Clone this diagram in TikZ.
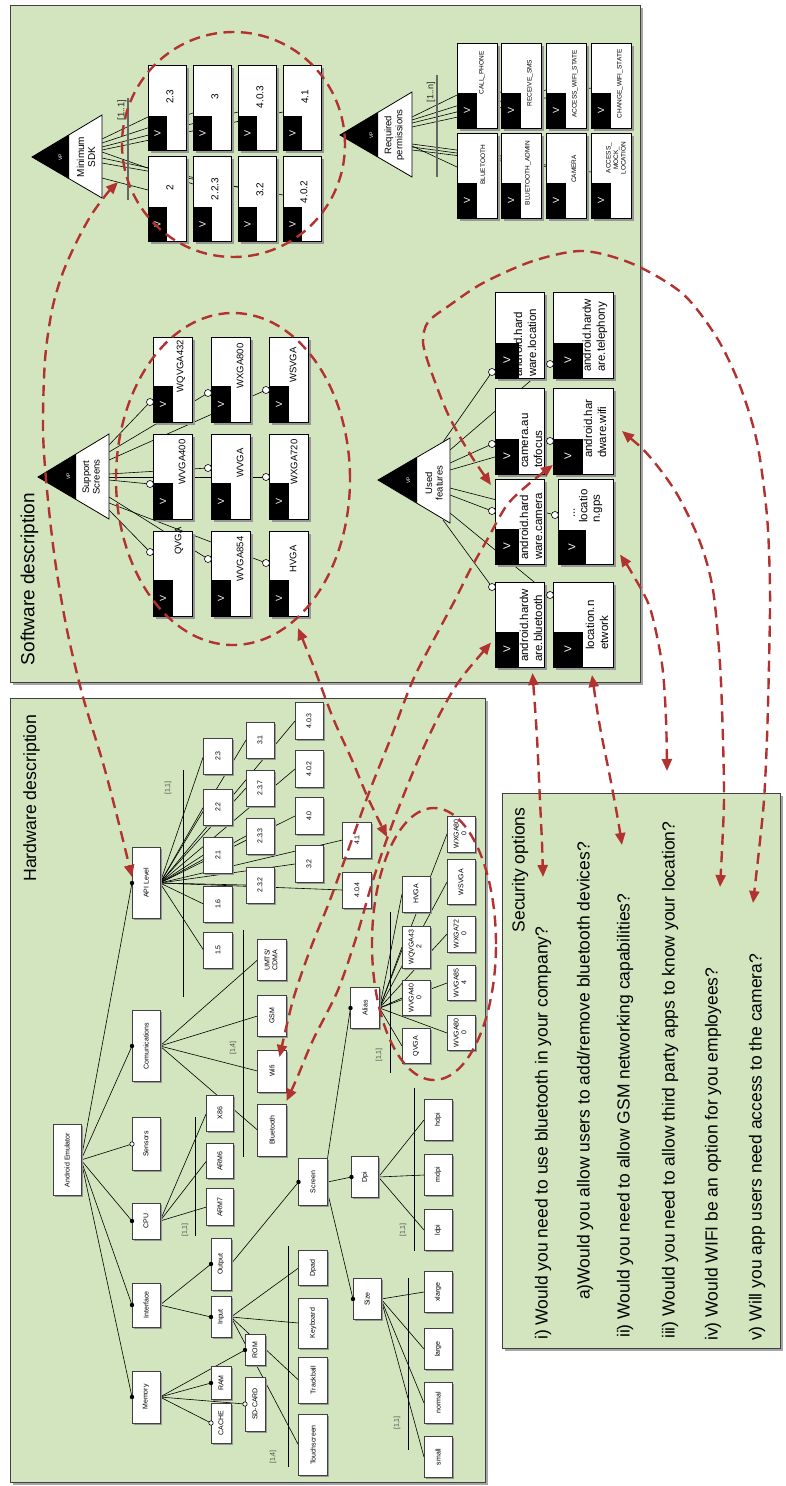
\documentclass[tikz,border=0pt]{standalone}
\usepackage{fontspec}
\setmainfont{Liberation Sans}
\usepackage{graphicx}
\usetikzlibrary{shapes.geometric,arrows.meta}
\definecolor{panelc}{RGB}{211,229,190}
\definecolor{redc}{RGB}{178,50,48}
\definecolor{shadowc}{RGB}{150,150,150}
\pgfdeclarelayer{panel}
\pgfdeclarelayer{lines}
\pgfdeclarelayer{front}
\pgfsetlayers{panel,lines,main,front}
\newcommand{\fsz}[2]{\fontsize{#1}{#2}\selectfont}
\newcommand{\twoline}[2]{\begin{tabular}{@{}c@{}}#1\\#2\end{tabular}}
\newcommand{\hwnode}[6]{%
  \fill[shadowc] (#2-#4/2+1.5,#3-#5/2+1.5) rectangle ++(#4,#5);
  \node[hwbox,minimum width=#4pt,minimum height=#5pt] (#1) at (#2,#3) {\rotatebox{90}{#6}};}
\newcommand{\featbox}[8]{%
  \fill[shadowc] (#2+2.5,#3+2.5) rectangle ++(#4,#5);
  \node[fbox,minimum width=#4pt,minimum height=#5pt,anchor=north west] (#1) at (#2,#3) {};
  \fill[black] (#2,#3+#5-#7) rectangle ++(#6,#7);
  \node[vtxt,font=\fsz{#8}{#8}] (#1v) at (#2+#6/2,#3+#5-#7/2) {\rotatebox{90}{V}};}
\begin{document}
\begin{tikzpicture}[x=1pt,y=-1pt,
  panel/.style={fill=panelc,draw=black!75,line width=0.8pt},
  fbox/.style={draw=black,fill=white,line width=0.8pt,inner sep=0pt,outer sep=0pt},
  hwbox/.style={draw=black!75,fill=white,line width=0.7pt,inner sep=0pt,outer sep=0pt,font=\fsz{7}{7.6}},
  vtxt/.style={text=white,inner sep=0pt},
  rot/.style={rotate=90,inner sep=0pt},
  conn/.style={line width=0.6pt},
  bar/.style={line width=0.7pt},
  card/.style={rotate=90,inner sep=0pt,font=\fsz{7}{8},text=black!70},
  optc/.style={draw=black,fill=white,line width=0.6pt},
  reddash/.style={draw=redc,line width=2.4pt,dash pattern=on 11pt off 6.5pt},
  redarrow/.style={reddash,arrows={Triangle[length=12pt,width=10pt]-Triangle[length=12pt,width=10pt]}},
]
\useasboundingbox (0,0) rectangle (785,1486);
\begin{pgfonlayer}{panel}
\fill[white] (0,0) rectangle (785,1486);
\fill[black!35] (12.5,7.5) rectangle (642.5,684.5);
\draw[panel] (10,5) rectangle (640,682);
\fill[black!35] (12.5,700.5) rectangle (487.5,1484.5);
\draw[panel] (10,698) rectangle (485,1482);
\fill[black!35] (504.5,795.5) rectangle (782.5,1350.5);
\draw[panel] (502,793) rectangle (780,1348);
\end{pgfonlayer}

\node[rot,font=\fsz{19}{22}] (swtitle) at (29.5,579) {Software description};
\node[rot,font=\fsz{17.7}{21}] (hwtitle) at (31.5,798) {Hardware description};

% ---------- Minimum SDK ----------
\draw[fill=white,line width=0.8pt] (32,157) -- (102,115) -- (102,198) -- cycle;
\fill[black] (32,157) -- (69,134.8) -- (69,178.7) -- cycle;
\node[rot,text=white,font=\fsz{5}{5}] (sdkvp) at (60.5,157) {VP};
\node[rot,align=center,font=\fsz{10}{11}] (sdklab) at (86,157) {Minimum\\SDK};
\coordinate (sdkR) at (102,157);
\draw[black!60,line width=1.3pt] (128,98) -- (128,200);
\node[card,font=\fsz{9.5}{10},text=black!85] (sdkcard) at (122,110) {[1..1]};
\featbox{s23}{148}{65}{38}{85}{19}{34}{9}
\featbox{s3}{193}{65}{38}{85}{19}{34}{9}
\featbox{s403}{238}{65}{38}{85}{19}{34}{9}
\featbox{s41}{283}{65}{38}{85}{19}{34}{9}
\featbox{s2}{148}{156}{38}{85}{19}{34}{9}
\featbox{s223}{193}{156}{38}{85}{19}{34}{9}
\featbox{s32}{238}{156}{38}{85}{19}{34}{9}
\featbox{s402}{283}{156}{38}{85}{19}{34}{9}
\node[rot,font=\fsz{10}{11}] (s23t) at (170,97) {2.3};
\node[rot,font=\fsz{10}{11}] (s3t) at (215,97) {3};
\node[rot,font=\fsz{10}{11}] (s403t) at (260,97) {4.0.3};
\node[rot,font=\fsz{10}{11}] (s41t) at (305,97) {4.1};
\node[rot,font=\fsz{10}{11}] (s2t) at (170,188) {2};
\node[rot,font=\fsz{10}{11}] (s223t) at (215,189) {2.2.3};
\node[rot,font=\fsz{10}{11}] (s32t) at (260,190) {3.2};
\node[rot,font=\fsz{10}{11}] (s402t) at (304,192) {4.0.2};

% ---------- Required permissions ----------
\draw[fill=white,line width=0.8pt] (340,135) -- (412,92) -- (412,177) -- cycle;
\fill[black] (340,135) -- (378,112.3) -- (378,157.2) -- cycle;
\node[rot,text=white,font=\fsz{5}{5}] (reqvp) at (371.5,135) {VP};
\node[rot,align=center,font=\fsz{9.5}{11}] (reqlab) at (394.5,135) {Required\\permissions};
\coordinate (reqR) at (412,135);
\draw[black!60,line width=1.3pt] (437,75) -- (437,177);
\node[card,font=\fsz{9}{10},text=black!85] (reqcard) at (431,92) {[1..n]};
\featbox{p1}{457}{43}{40}{85}{20}{35}{9}
\featbox{p2}{501}{43}{40}{85}{20}{35}{9}
\featbox{p3}{546}{43}{40}{85}{20}{35}{9}
\featbox{p4}{591}{43}{40}{85}{20}{35}{9}
\featbox{p5}{457}{133}{40}{85}{20}{35}{9}
\featbox{p6}{501}{133}{40}{85}{20}{35}{9}
\featbox{p7}{546}{133}{40}{85}{20}{35}{9}
\featbox{p8}{591}{133}{40}{85}{20}{35}{9}
\node[rot,font=\fsz{6.5}{7}] (p1t) at (482,73) {CALL\_PHONE};
\node[rot,font=\fsz{6.5}{7}] (p2t) at (530,83) {RECEIVE\_SMS};
\node[rot,font=\fsz{6.5}{7}] (p3t) at (575,84) {ACCESS\_WIFI\_STATE};
\node[rot,font=\fsz{6.5}{7}] (p4t) at (620,84) {CHANGE\_WIFI\_STATE};
\node[rot,font=\fsz{6.5}{7}] (p5t) at (483,165) {BLUETOOTH};
\node[rot,font=\fsz{6.5}{7}] (p6t) at (528,173) {BLUETOOTH\_ADMIN};
\node[rot,font=\fsz{6.5}{7}] (p7t) at (574,169) {CAMERA};
\node[rot,align=center,font=\fsz{6.5}{7.5}] (p8t) at (616,158) {ACCESS\_\\MOCK\_\\LOCATION};

% ---------- Support screens ----------
\draw[fill=white,line width=0.8pt] (38,477) -- (109,434) -- (109,519) -- cycle;
\fill[black] (38,477) -- (76,454) -- (76,499.5) -- cycle;
\node[rot,text=white,font=\fsz{5}{5}] (supvp) at (68.5,476) {VP};
\node[rot,align=center,font=\fsz{9.5}{10.5}] (suplab) at (91,477) {Support\\Screens};
\coordinate (supR) at (109,477);
\featbox{c11}{153}{337}{39}{85}{20}{36}{9}
\featbox{c21}{211}{337}{39}{85}{20}{36}{9}
\featbox{c31}{269}{337}{39}{85}{20}{36}{9}
\featbox{c12}{153}{434}{39}{85}{20}{36}{9}
\featbox{c22}{211}{434}{39}{85}{20}{36}{9}
\featbox{c32}{269}{434}{39}{85}{20}{36}{9}
\featbox{c13}{153}{531}{39}{85}{20}{36}{9}
\featbox{c23}{211}{531}{39}{85}{20}{36}{9}
\featbox{c33}{269}{531}{39}{85}{20}{36}{9}
\node[rot,font=\fsz{9.5}{10}] (c11t) at (181,366) {WQVGA432};
\node[rot,font=\fsz{9.5}{10}] (c21t) at (240,366) {WXGA800};
\node[rot,font=\fsz{9.5}{10}] (c31t) at (293,365) {WSVGA};
\node[rot,font=\fsz{9.5}{10}] (c12t) at (182,462) {WVGA400};
\node[rot,font=\fsz{9.5}{10}] (c22t) at (240,463) {WVGA};
\node[rot,font=\fsz{9.5}{10}] (c32t) at (294,462) {WXGA720};
\node[rot,font=\fsz{9.5}{10}] (c13t) at (179,541) {QVGA};
\node[rot,font=\fsz{9.5}{10}] (c23t) at (240,559) {WVGA854};
\node[rot,font=\fsz{9.5}{10}] (c33t) at (293,559) {HVGA};

% ---------- Used features ----------
\draw[fill=white,line width=0.8pt] (378,480) -- (450,438) -- (450,523) -- cycle;
\fill[black] (378,480) -- (417,457) -- (417,503) -- cycle;
\node[rot,text=white,font=\fsz{5}{5}] (usedvp) at (408.5,480) {VP};
\node[rot,align=center,font=\fsz{9.5}{10.5}] (usedlab) at (434,483) {Used\\features};
\coordinate (usedR) at (450,480);
\featbox{u1}{495}{292}{49}{86}{24}{35}{10}
\featbox{u2}{495}{388}{49}{86}{24}{35}{10}
\featbox{u3}{495}{479}{49}{85}{24}{35}{10}
\featbox{u4}{495}{582}{49}{85}{24}{35}{10}
\featbox{u5}{553}{292}{60}{86}{30}{35}{10}
\featbox{u6}{553}{388}{60}{86}{30}{35}{10}
\featbox{u7}{558}{479}{55}{85}{28}{34}{10}
\featbox{u8}{553}{582}{60}{85}{30}{35}{10}
\node[rot,anchor=west,align=left,font=\fsz{11.5}{14}] (u1t) at (525,377) {android.hard\\ware.location};
\node[rot,anchor=west,align=left,font=\fsz{11.5}{14}] (u2t) at (532,468) {camera.au\\tofocus};
\node[rot,anchor=west,align=left,font=\fsz{11.5}{14}] (u3t) at (531,560) {android.hard\\ware.camera};
\node[rot,anchor=west,align=left,font=\fsz{11.5}{14}] (u4t) at (531,662) {android.hardw\\are.bluetooth};
\node[rot,anchor=west,align=left,font=\fsz{11.5}{14}] (u5t) at (595,372) {android.hardw\\are.telephony};
\node[rot,anchor=west,align=left,font=\fsz{11.5}{14}] (u6t) at (595,458) {android.har\\dware.wifi};
\node[rot,anchor=west,align=left,font=\fsz{11.5}{12.5}] (u7t) at (588,523) {\hspace*{5pt}...\\locatio\\n.gps};
\node[rot,anchor=west,align=left,font=\fsz{11.5}{14}] (u8t) at (597,650) {location.n\\etwork};

% optional-feature end points
\coordinate (c11o) at ([xshift=-3pt,yshift=-65pt]c11.north west);
\coordinate (c21o) at ([xshift=-3pt,yshift=-56pt]c21.north west);
\coordinate (c31o) at ([xshift=-3pt,yshift=-53pt]c31.north west);
\coordinate (c12o) at ([xshift=-3pt,yshift=-50pt]c12.north west);
\coordinate (c22o) at ([xshift=-3pt,yshift=-34pt]c22.north west);
\coordinate (c32o) at ([xshift=-3pt,yshift=-43pt]c32.north west);
\coordinate (c13o) at ([xshift=-3pt,yshift=-21pt]c13.north west);
\coordinate (c23o) at ([xshift=-3pt,yshift=-28pt]c23.north west);
\coordinate (c33o) at ([xshift=-3pt,yshift=-32pt]c33.north west);
\coordinate (u1o) at ([xshift=-3pt,yshift=-80pt]u1.north west);
\coordinate (u5o) at ([xshift=-3pt,yshift=-72pt]u5.north west);
\coordinate (u2o) at ([xshift=-3pt,yshift=-56pt]u2.north west);
\coordinate (u6o) at ([xshift=-3pt,yshift=-53pt]u6.north west);
\coordinate (u3o) at ([xshift=-3pt,yshift=-32pt]u3.north west);
\coordinate (u7o) at ([xshift=-3pt,yshift=-36pt]u7.north west);
\coordinate (u4o) at ([xshift=-3pt,yshift=-5pt]u4.north west);
\coordinate (u8o) at ([xshift=-3pt,yshift=-13pt]u8.north west);
\foreach \n in {c11o,c21o,c31o,c12o,c22o,c32o,c13o,c23o,c33o,u1o,u5o,u2o,u6o,u3o,u7o,u4o,u8o}
  \draw[optc] (\n) circle (3.5pt);

% ---------- Hardware ----------
\hwnode{emu}{67}{1160}{28}{71}{Android Emulator}
\hwnode{api}{146}{883}{28}{71}{API Level}
\hwnode{comm}{146}{1046}{28}{71}{Comunications}
\hwnode{sens}{146}{1144}{28}{53}{Sensors}
\hwnode{cpu}{146}{1221}{28}{36}{CPU}
\hwnode{intf}{146}{1305}{28}{44}{Interface}
\hwnode{mem}{146}{1397}{28}{52}{Memory}
\hwnode{v23}{218}{756}{29}{36}{2.3}
\hwnode{v22}{218}{807}{29}{36}{2.2}
\hwnode{v21}{218}{855}{29}{36}{2.1}
\hwnode{v16}{218}{904}{29}{36}{1.6}
\hwnode{v15}{218}{950}{29}{36}{1.5}
\hwnode{v31}{260}{740}{28}{36}{3.1}
\hwnode{v237}{260}{788}{28}{36}{2.3.7}
\hwnode{v233}{260}{836}{28}{36}{2.3.3}
\hwnode{v232}{260}{885}{28}{36}{2.3.2}
\hwnode{v403}{309}{721}{28}{37}{4.0.3}
\hwnode{v402}{309}{769}{28}{37}{4.0.2}
\hwnode{v40}{309}{816}{28}{37}{4.0}
\hwnode{v32}{309}{864}{28}{37}{3.2}
\hwnode{v41}{357}{840}{29}{36}{4.1}
\hwnode{v404}{357}{890}{29}{36}{4.0.4}
\hwnode{umts}{272}{960}{29}{41}{\twoline{UMTS/}{CDMA}}
\hwnode{gsm}{272}{1016}{29}{41}{GSM}
\hwnode{wifi}{272}{1071}{29}{42}{Wifi}
\hwnode{bt}{272}{1130}{29}{52}{Bluetooth}
\hwnode{x86}{220}{1113}{27}{36}{X86}
\hwnode{arm6}{220}{1161}{27}{35}{ARM6}
\hwnode{arm7}{220}{1207}{27}{37}{ARM7}
\hwnode{outp}{221}{1264}{20}{52}{Output}
\hwnode{inp}{221}{1317}{20}{41}{Input}
\hwnode{rom}{255}{1350}{20}{31}{ROM}
\hwnode{ram}{221}{1383}{20}{33}{RAM}
\hwnode{cache}{221}{1423}{20}{40}{CACHE}
\hwnode{sdcard}{255}{1404}{20}{54}{SD-CARD}
\hwnode{screen}{313}{1182}{29}{47}{Screen}
\hwnode{dpad}{313}{1268}{29}{35}{Dpad}
\hwnode{kbd}{313}{1323}{29}{50}{Keyboard}
\hwnode{track}{313}{1380}{29}{46}{Trackball}
\hwnode{touch}{313}{1445}{29}{61}{Touchscreen}
\hwnode{dpi}{365}{1177}{27}{41}{Dpi}
\hwnode{size}{367}{1299}{28}{41}{Size}
\hwnode{alias}{365}{1008}{29}{41}{Alias}
\hwnode{hdpi}{438}{1120}{28}{41}{hdpi}
\hwnode{mdpi}{438}{1175}{28}{41}{mdpi}
\hwnode{ldpi}{438}{1230}{28}{41}{ldpi}
\hwnode{xlarge}{438}{1292}{28}{41}{xlarge}
\hwnode{large}{438}{1349}{28}{41}{large}
\hwnode{normal}{438}{1403}{28}{41}{normal}
\hwnode{small}{438}{1457}{28}{41}{small}
\hwnode{a1}{416}{894}{28}{36}{HVGA}
\hwnode{a2}{416}{947}{28}{42}{\twoline{WQVGA43}{2}}
\hwnode{a3}{416}{998}{28}{35}{\twoline{WVGA40}{0}}
\hwnode{a4}{416}{1046}{28}{35}{QVGA}
\hwnode{b1}{461}{834}{28}{36}{\twoline{WXGA80}{0}}
\hwnode{b2}{461}{882}{28}{45}{WSVGA}
\hwnode{b3}{461}{934}{28}{36}{\twoline{WXGA72}{0}}
\hwnode{b4}{461}{983}{28}{35}{\twoline{WVGA85}{4}}
\hwnode{b5}{461}{1033}{28}{35}{\twoline{WVGA80}{0}}

% cardinality bars
\draw[bar] (183,770) -- (183,997);
\node[card] (apicard) at (168,788) {[1,1]};
\draw[bar] (243,930) -- (243,1157);
\node[card] (commcard) at (233,1048) {[1,4]};
\draw[bar] (195,1117) -- (195,1236);
\node[card] (cpucard) at (185,1230) {[1,1]};
\draw[bar] (390,912) -- (390,1073);
\node[card] (aliascard) at (379,1055) {[1,1]};
\draw[bar] (414,1088) -- (414,1251);
\node[card] (dpicard) at (403,1230) {[1,1]};
\draw[bar] (408,1278) -- (408,1450);
\node[card] (sizecard) at (397,1423) {[1,1]};
\draw[bar] (288,1246) -- (288,1467);
\node[card] (inpcard) at (273,1457) {[1,4]};

% mandatory / optional marks
\foreach \n in {api,comm,cpu,intf,mem,outp,inp,screen,dpi,size,alias,rom,ram}
  \fill[black] (\n.west) circle (2.2pt);
\foreach \n in {sens,sdcard,cache}
  \draw[optc] (\n.west) circle (2.2pt);

% ---------- connectors (behind boxes) ----------
\begin{pgfonlayer}{lines}
\draw[conn] ([yshift=18pt]sdkR) -- ([yshift=-52pt]s23.north west);
\draw[conn] ([yshift=14pt]sdkR) -- ([yshift=-48pt]s3.north west);
\draw[conn] ([yshift=10pt]sdkR) -- ([yshift=-47pt]s403.north west);
\draw[conn] ([yshift=7pt]sdkR) -- ([yshift=-47pt]s41.north west);
\draw[conn] ([yshift=-21pt]sdkR) -- ([yshift=-34pt]s2.north west);
\draw[conn] ([yshift=5pt]sdkR) -- ([yshift=-28pt]s223.north west);
\draw[conn] ([yshift=-1pt]sdkR) -- ([yshift=-31pt]s32.north west);
\draw[conn] ([yshift=-6pt]sdkR) -- ([yshift=-39pt]s402.north west);
\draw[conn] ([yshift=18pt]reqR) -- ([yshift=-52pt]p1.north west);
\draw[conn] ([yshift=15pt]reqR) -- ([yshift=-49pt]p2.north west);
\draw[conn] ([yshift=12pt]reqR) -- ([yshift=-47pt]p3.north west);
\draw[conn] ([yshift=8pt]reqR) -- ([yshift=-45pt]p4.north west);
\draw[conn] ([yshift=-11pt]reqR) -- ([yshift=-34pt]p5.north west);
\draw[conn] ([yshift=-9pt]reqR) -- ([yshift=-23pt]p6.north west);
\draw[conn] ([yshift=-12pt]reqR) -- ([yshift=-32pt]p7.north west);
\draw[conn] ([yshift=-15pt]reqR) -- ([yshift=-39pt]p8.north west);
\draw[conn] ([yshift=32pt]supR) -- (c11o);
\draw[conn] ([yshift=25pt]supR) -- (c21o);
\draw[conn] ([yshift=17pt]supR) -- (c31o);
\draw[conn] ([yshift=-3pt]supR) -- (c12o);
\draw[conn] ([yshift=3pt]supR) -- (c22o);
\draw[conn] (supR) -- (c32o);
\draw[conn] ([yshift=-33pt]supR) -- (c13o);
\draw[conn] ([yshift=-20pt]supR) -- (c23o);
\draw[conn] ([yshift=-26pt]supR) -- (c33o);
\draw[conn] ([xshift=-7pt,yshift=38pt]usedR) -- (u1o);
\draw[conn] ([yshift=30pt]usedR) -- (u5o);
\draw[conn] ([yshift=17pt]usedR) -- (u2o);
\draw[conn] ([yshift=10pt]usedR) -- (u6o);
\draw[conn] ([yshift=-15pt]usedR) -- (u3o);
\draw[conn] ([yshift=-8pt]usedR) -- (u7o);
\draw[conn] ([xshift=-7pt,yshift=-40pt]usedR) -- (u4o);
\draw[conn] ([yshift=-33pt]usedR) -- (u8o);
\foreach \n in {api,comm,sens,cpu,intf,mem} \draw[conn] (emu.east) -- (\n.west);
\foreach \n in {v23,v22,v21,v16,v15,v31,v237,v233,v232,v403,v402,v40,v32,v41,v404} \draw[conn] (api.east) -- (\n.west);
\foreach \n in {umts,gsm,wifi,bt} \draw[conn] (comm.east) -- (\n.west);
\foreach \n in {x86,arm6,arm7} \draw[conn] (cpu.east) -- (\n.west);
\foreach \n in {outp,inp} \draw[conn] (intf.east) -- (\n.west);
\draw[conn] (outp.east) -- (screen.west);
\foreach \n in {dpad,kbd,track,touch} \draw[conn] (inp.east) -- (\n.west);
\foreach \n in {rom,ram,sdcard,cache} \draw[conn] (mem.east) -- (\n.west);
\draw[conn] (screen.north east) -- (alias.west);
\draw[conn] (screen.east) -- (dpi.west);
\draw[conn] ([yshift=-10pt]screen.east) -- (size.west);
\foreach \n in {hdpi,mdpi,ldpi} \draw[conn] (dpi.east) -- (\n.west);
\foreach \n in {xlarge,large,normal,small} \draw[conn] (size.east) -- (\n.west);
\foreach \n in {a1,a2,a3,a4,b1,b2,b3,b4,b5} \draw[conn] (alias.east) -- (\n.west);
\end{pgfonlayer}

% ---------- Security options ----------
\node[rot,font=\fsz{17.5}{20}] (q0) at (520,870) {Security options};
\node[rot,anchor=west,font=\fsz{17.5}{20}] (q1) at (543,1340) {i) Would you need to use bluetooth in your company?};
\node[rot,anchor=west,font=\fsz{17.5}{20}] (q2) at (585,1300) {a)Would you allow users to add/remove bluetooth devices?};
\node[rot,anchor=west,font=\fsz{17.5}{20}] (q3) at (625,1338) {ii) Would you need to allow GSM networking capabilities?};
\node[rot,anchor=west,font=\fsz{17.5}{20}] (q4) at (670,1339) {iii) Would you need to allow third party apps to know your location?};
\node[rot,anchor=west,font=\fsz{17.5}{20}] (q5) at (713,1341) {iv) Would WIFI be an option for you employees?};
\node[rot,anchor=west,font=\fsz{17.5}{20}] (q6) at (757,1341) {v) Will you app users need access to the camera?};

% ---------- red dashed relations ----------
\begin{pgfonlayer}{front}
\node[reddash,ellipse,minimum width=223pt,minimum height=225pt,inner sep=0pt] (sdkell) at (233.5,144.5) {};
\node[reddash,ellipse,minimum width=234pt,minimum height=332pt,inner sep=0pt] (supell) at (233,479) {};
\node[reddash,ellipse,minimum width=124pt,minimum height=272pt,inner sep=0pt] (aliasell) at (434,944) {};
\coordinate (e1a) at (118,182);
\coordinate (e1b) at ([yshift=6pt]api.west);
\coordinate (e2a) at (298,628);
\coordinate (e2b) at (387,837);
\coordinate (e3a) at ([yshift=9pt]u6.south west);
\coordinate (e3b) at ([xshift=-7pt,yshift=-7pt]wifi.north east);
\coordinate (e4a) at ([xshift=-4pt,yshift=-18pt]u4.west);
\coordinate (e4b) at ([yshift=3pt]bt.north east);
\coordinate (e5a) at ([xshift=-4pt,yshift=-6pt]u3.north west);
\coordinate (e5b) at (753,903);
\coordinate (e6a) at ([xshift=9pt]u6.east);
\coordinate (e6b) at (720,887);
\coordinate (e7a) at ([xshift=7pt,yshift=-33pt]u7.east);
\coordinate (e7b) at (667,771);
\coordinate (e8a) at ([xshift=13pt,yshift=-6pt]u4.south);
\coordinate (e8b) at (543,877);
\coordinate (e9a) at ([xshift=9pt,yshift=-8pt]u8.south);
\coordinate (e9b) at (622,845);
\draw[redarrow] plot[smooth,tension=0.5] coordinates {(e1a) (105,196) (90,217) (75,245) (62,275) (52,310) (45,360) (43,430) (47,490) (55,560) (67,630) (83,697) (103,763) (118,820) (e1b)};
\draw[redarrow] plot[smooth,tension=0.5] coordinates {(e2a) (313,665) (333,718) (352,760) (368,798) (e2b)};
\draw[redarrow] plot[smooth,tension=0.5] coordinates {(e3a) (530,483) (507,505) (487,540) (470,570) (455,600) (440,628) (413,680) (390,740) (370,790) (350,845) (330,900) (310,950) (293,1000) (e3b)};
\draw[redarrow] plot[smooth,tension=0.5] coordinates {(e4a) (460,680) (443,708) (428,738) (413,772) (397,812) (383,850) (370,890) (357,935) (338,990) (313,1040) (297,1078) (e4b)};
\draw[redarrow] plot[smooth,tension=0.5] coordinates {(e5a) (467,449) (447,412) (430,368) (423,342) (428,322) (450,305) (483,283) (533,261) (583,251) (633,264) (683,294) (717,338) (740,386) (757,442) (767,516) (770,590) (769,664) (767,738) (764,800) (759,850) (e5b)};
\draw[redarrow] plot[smooth,tension=0.5] coordinates {(e6a) (650,457) (677,494) (700,542) (713,590) (720,664) (723,740) (724,800) (722,850) (e6b)};
\draw[redarrow] plot[smooth,tension=0.5] coordinates {(e7a) (633,575) (650,608) (662,664) (666,719) (e7b)};
\draw[redarrow] plot[smooth,tension=0.5] coordinates {(e8a) (537,738) (540,801) (542,843) (e8b)};
\draw[redarrow] plot[smooth,tension=0.5] coordinates {(e9a) (600,727) (610,777) (618,820) (e9b)};
\end{pgfonlayer}
\end{tikzpicture}
\end{document}
